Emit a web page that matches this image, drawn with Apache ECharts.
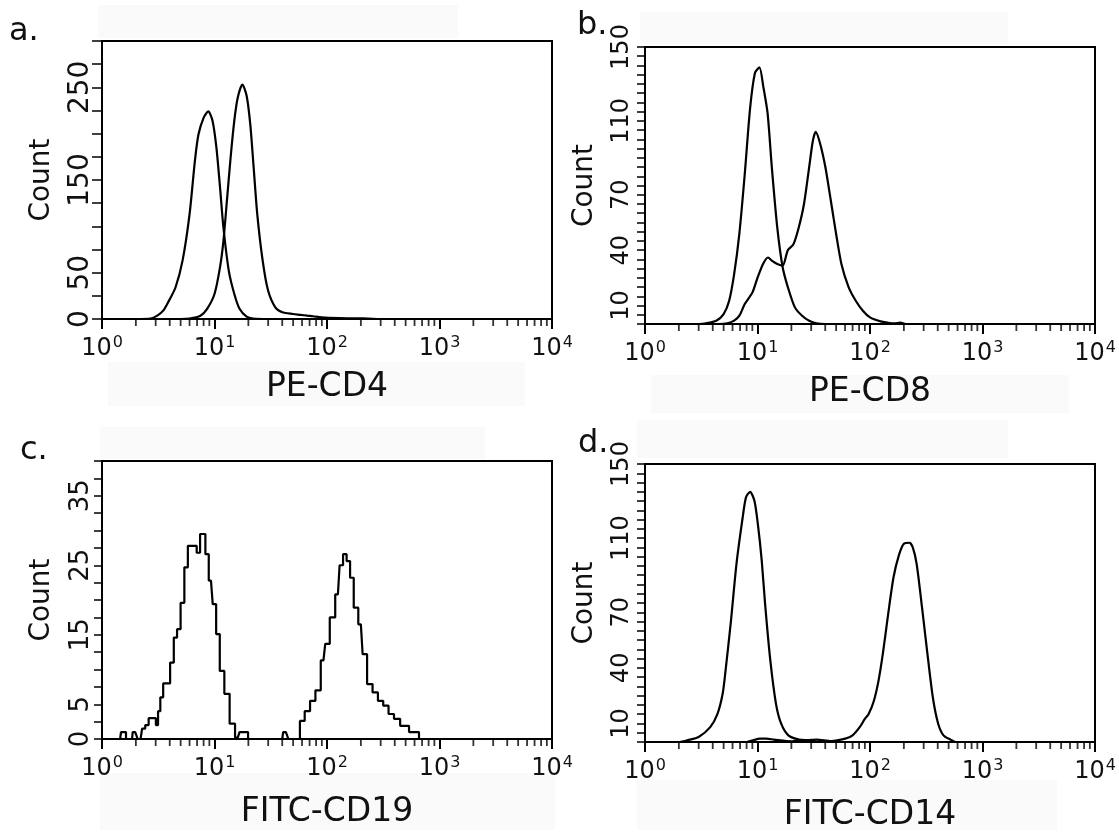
<!DOCTYPE html>
<html>
<head>
<meta charset="utf-8">
<script src="https://cdn.jsdelivr.net/npm/echarts@6/dist/echarts.min.js"></script>
<style>
html,body{margin:0;padding:0;background:#fff;}
#chart{width:1119px;height:835px;}
</style>
</head>
<body>
<div id="chart"></div>
<script>
// ---------- data ----------
const panelLetters = ['a.', 'b.', 'c.', 'd.'];
const xTitles = ['PE-CD4', 'PE-CD8', 'FITC-CD19', 'FITC-CD14'];
const yTitle = 'Count';
const xTickExponents = ['0', '1', '2', '3', '4'];
const xMinorTicks = [2,3,4,5,6,7,8,9,20,30,40,50,60,70,80,90,200,300,400,500,600,700,800,900,2000,3000,4000,5000,6000,7000,8000,9000];

const yLabelsA = [0, 50, 150, 250];
const yLabelsB = [10, 40, 70, 110, 150];
const yLabelsC = [0, 5, 15, 25, 35];
const yLabelsD = [10, 40, 70, 110, 150];

// Panel a: PE-CD4
const cd4Control = [[1,0],[2.0,0],[2.7,0.5],[3.1,3.6],[3.5,9],[3.87,18],[4.5,34],[5.2,63],[6.0,113],[6.7,171],[7.2,199],[8.0,217],[8.8,224],[9.6,214],[10.4,185],[11.2,142],[12.0,99],[13.4,52],[15.0,27],[16.7,11],[19.3,2.5],[22,0.5],[30,0],[10000,0]];
const cd4Stained = [[1,0],[5.0,0],[6.0,0.5],[7.5,3.6],[8.6,11],[10,27],[11.2,56],[12.0,84],[12.9,128],[13.9,174],[15.0,214],[16.1,239],[17.7,253],[19.3,241],[20.8,210],[22.3,163],[24.0,113],[26.8,63],[29.9,31],[34.7,12.6],[40.1,7.2],[49.9,5.4],[58,4.5],[66.9,3.6],[75,3],[89.6,1.8],[129,1],[186,0.7],[232,0.5],[300,0],[10000,0]];

// Panel b: PE-CD8
const cd8Control = [[1,0],[3.0,0],[3.5,0.4],[4.3,1.8],[5.0,5.4],[5.6,12.6],[6.2,27],[6.9,49],[7.7,81],[8.6,117],[9.5,136],[10.4,139],[11.3,128],[12.3,114],[13.4,85],[15.0,52],[16.7,31],[18.6,20],[21.5,9],[24.9,4.5],[28.8,1.8],[33.4,0.4],[40,0],[10000,0]];
const cd8Stained = [[1,0],[4.5,0],[5.4,0.4],[6.2,1.8],[6.9,4.5],[7.7,10.8],[9.0,17],[10,25],[11.2,32.5],[12.4,36],[13.6,34],[15.0,32.5],[16.7,31.6],[18.6,40],[20.8,43],[23.2,52],[25.9,65],[28.8,85],[31,99],[32.9,104],[35.9,98],[40.1,85],[44.8,67],[49.9,49],[55.7,32.5],[64.5,20],[74.7,12.6],[86.4,7.2],[100,3.6],[124,1.4],[144,0.7],[165,0.3],[186,0.7],[208,0],[10000,0]];

// Panel c: FITC-CD19
const cd19Control = [[1,0],[1.45,0],[1.5,1],[1.6,1],[1.67,0],[1.85,0],[1.9,1],[2.05,1],[2.1,0],[2.2,0],[2.35,1.5],[2.5,2],[2.7,3],[2.93,3],[3.1,2],[3.2,4],[3.4,6],[3.6,8],[3.87,8],[4.2,11],[4.5,14.6],[4.8,15.8],[5.2,19.6],[5.6,24.7],[6.0,27.8],[6.4,27.8],[6.7,27.8],[7.2,26.8],[7.7,29.5],[8.1,29.5],[8.5,26.6],[9.3,22.8],[10,19.4],[10.7,15.1],[11.6,9.8],[12.9,6.5],[14.4,2.2],[16.1,0.2],[17.3,1],[19,1],[20.8,0],[10000,0]];
const cd19Stained = [[1,0],[40,0],[41.6,1],[44.7,1],[46,0],[55,0],[60,2.6],[66.9,4],[74.7,5.5],[83.3,7],[93,11.3],[100,13.7],[112,17.5],[125,20.8],[134,25],[144,26.6],[155,25.6],[166,23.2],[180,18.9],[200,16.5],[215,12.2],[240,7.9],[269,6.7],[299,5.5],[334,4.8],[372,3.6],[417,2.9],[479,1.9],[600,1],[720,0],[10000,0]];

// Panel d: FITC-CD14
const cd14Control = [[1,0],[2,0],[2.4,1],[3.0,2.7],[3.8,8],[4.4,15],[4.9,26],[5.2,38.5],[5.8,65],[6.5,96],[7.3,119],[7.9,132],[8.6,135],[9.4,130],[10.1,117],[10.9,98],[11.7,74],[13.0,44],[14.6,20.6],[16.2,10],[18.8,3.6],[23.4,1.3],[29.1,0.9],[35,0],[10000,0]];
const cd14Stained = [[1,0],[8,0],[9.1,0.9],[10.5,1.8],[12,1.8],[14,1.3],[20.2,0.4],[33.7,1.3],[45,0.5],[60.3,1.8],[70,3.6],[81,8],[90,12.5],[97,15],[108,22],[119,33],[130,47.5],[145,69],[162,89],[181,101],[200,107],[224,107.5],[240,105],[260,96],[290,72.6],[324,47.5],[362,24],[403,10],[450,3.6],[520,1.3],[578,0],[10000,0]];

// ---------- layout ----------
const FONT = 'DejaVu Sans';
const grids = [
  {left: 102, top: 41, width: 450, height: 278},
  {left: 645, top: 47, width: 450, height: 277},
  {left: 102, top: 461, width: 450, height: 278},
  {left: 645, top: 464, width: 450, height: 278}
];
const yCfg = [
  {max: 300, interval: 25, labels: yLabelsA, size: 28, margin: 7, tick: 10},
  {max: 150, interval: 5, labels: yLabelsB, size: 24, margin: 11, tick: 8},
  {max: 40, interval: 2.5, labels: yLabelsC, size: 26, margin: 8, tick: 8},
  {max: 150, interval: 5, labels: yLabelsD, size: 24, margin: 11, tick: 8}
];
const xNameGap = [52, 52, 57, 57];
const seriesData = [[cd4Control, cd4Stained], [cd8Control, cd8Stained], [cd19Control, cd19Stained], [cd14Control, cd14Stained]];

const option = {
  backgroundColor: '#fff',
  animation: false,
  grid: grids.map(g => Object.assign({show: true, borderColor: '#000', borderWidth: 2, backgroundColor: 'transparent', containLabel: false}, g)),
  xAxis: grids.map((g, i) => ({
    type: 'log', logBase: 10, min: 1, max: 10000, gridIndex: i,
    name: xTitles[i], nameLocation: 'middle', nameGap: xNameGap[i],
    nameTextStyle: {fontFamily: FONT, fontSize: 33, color: '#111'},
    axisLine: {show: true, lineStyle: {color: '#000', width: 2}},
    axisTick: {show: true, length: 10, lineStyle: {color: '#000', width: 2}},
    splitLine: {show: false},
    axisLabel: {
      margin: 16,
      formatter: v => '{b|10}{s|' + xTickExponents[Math.round(Math.log10(v))] + '}',
      rich: {
        b: {fontFamily: FONT, fontSize: 24, color: '#111', lineHeight: 28},
        s: {fontFamily: FONT, fontSize: 16, color: '#111', verticalAlign: 'top', lineHeight: 16, padding: [0, 0, 0, 1]}
      }
    }
  })),
  yAxis: grids.map((g, i) => ({
    type: 'value', min: 0, max: yCfg[i].max, interval: yCfg[i].interval, gridIndex: i,
    name: yTitle, nameLocation: 'middle', nameGap: 46,
    nameTextStyle: {fontFamily: FONT, fontSize: 28, color: '#111'},
    axisLine: {show: true, lineStyle: {color: '#000', width: 2}},
    axisTick: {show: true, length: yCfg[i].tick, lineStyle: {color: '#000', width: 1.5}},
    splitLine: {show: false},
    axisLabel: {
      rotate: 90, margin: yCfg[i].margin,
      fontFamily: FONT, fontSize: yCfg[i].size, color: '#111',
      formatter: v => (yCfg[i].labels.indexOf(Math.round(v * 100) / 100) >= 0 ? String(Math.round(v)) : '')
    }
  })),
  series: [],
  graphic: []
};

seriesData.forEach((pair, i) => {
  pair.forEach(d => {
    option.series.push({
      type: 'line', xAxisIndex: i, yAxisIndex: i, data: d,
      showSymbol: false, symbol: 'none',
      smooth: i === 2 ? false : 0.25,
      step: i === 2 ? 'middle' : false,
      lineStyle: {color: '#000', width: 2.2},
      z: 3, silent: true
    });
  });
  option.series.push({
    type: 'scatter', xAxisIndex: i, yAxisIndex: i,
    data: xMinorTicks.map(v => [v, 0]),
    symbol: 'rect', symbolSize: [1.8, 6], symbolOffset: [0, 4],
    itemStyle: {color: '#000'}, clip: false, silent: true, z: 4
  });
});

// faint background bands from the scanned original
const bands = [
  [98, 5, 360, 33], [108, 362, 417, 44],
  [640, 12, 368, 32], [651, 375, 418, 38],
  [100, 427, 385, 32], [100, 773, 455, 57],
  [637, 420, 371, 38], [637, 780, 420, 50]
];
bands.forEach(b => option.graphic.push({
  type: 'rect', shape: {x: b[0], y: b[1], width: b[2], height: b[3]},
  style: {fill: '#fafafa'}, z: -10, silent: true
}));
const letterPos = [[9, 16], [577, 10], [20, 435], [578, 428]];
panelLetters.forEach((t, i) => option.graphic.push({
  type: 'text', left: letterPos[i][0], top: letterPos[i][1],
  style: {text: t, font: '32px "DejaVu Sans"', fill: '#111'}, z: 10
}));

const chart = echarts.init(document.getElementById('chart'), null, {renderer: 'canvas'});
chart.setOption(option);
</script>
</body>
</html>
